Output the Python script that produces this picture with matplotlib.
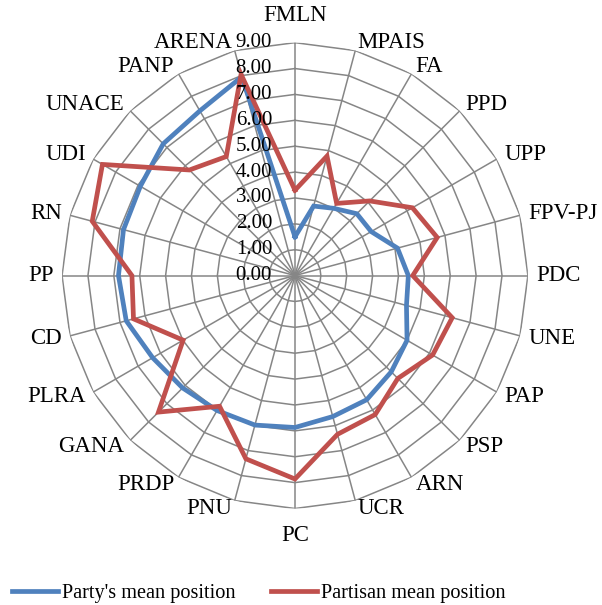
import numpy as np
import matplotlib
matplotlib.use("Agg")
import matplotlib.pyplot as plt

plt.rcParams['font.family'] = ['Liberation Serif', 'DejaVu Serif']

# parties, clockwise from the top
parties = ["FMLN", "MPAIS", "FA", "PPD", "UPP", "FPV-PJ", "PDC", "UNE", "PAP",
           "PSP", "ARN", "UCR", "PC", "PNU", "PRDP", "GANA", "PLRA", "CD", "PP",
           "RN", "UDI", "UNACE", "PANP", "ARENA"]

party_mean = [1.50, 2.78, 3.00, 3.38, 3.40, 4.10, 4.38, 4.46, 5.00, 5.26, 5.54, 5.64,
              5.87, 5.98, 6.02, 6.14, 6.35, 6.75, 6.82, 6.86, 6.90, 7.20, 7.35, 7.95]

partisan_mean = [3.30, 4.78, 3.22, 4.08, 5.24, 5.69, 4.55, 6.29, 6.14, 5.62, 6.20, 6.35,
                 7.86, 7.33, 5.83, 7.46, 4.99, 6.46, 6.30, 8.11, 8.59, 5.77, 5.31, 8.05]

ticks = [0, 1, 2, 3, 4, 5, 6, 7, 8, 9]

grid_col = "#868686"

fig = plt.figure(figsize=(6.02, 6.05), dpi=100)
ax = fig.add_axes([0.103, 0.1595, 0.774, 0.770], projection="polar")
ax.set_theta_zero_location("N")
ax.set_theta_direction(-1)
ax.set_ylim(0, 9)
ax.grid(False)
ax.spines["polar"].set_visible(False)
ax.set_xticks([])
ax.set_yticks([])
ax.patch.set_alpha(0)

n = len(parties)
theta = np.arange(n) * 2 * np.pi / n
theta_c = np.append(theta, theta[0])

# polygon rings and spokes
for t in ticks[1:]:
    ax.plot(theta_c, [t] * (n + 1), color=grid_col, lw=1.1, zorder=1)
for th in theta:
    ax.plot([th, th], [0, 9], color=grid_col, lw=1.1, zorder=1)

ax.plot(theta_c, party_mean + party_mean[:1], color="#4F81BD", lw=3.4,
        label="Party's mean position", zorder=3, solid_joinstyle="miter")
ax.plot(theta_c, partisan_mean + partisan_mean[:1], color="#C0504D", lw=3.4,
        label="Partisan mean position", zorder=3, solid_joinstyle="miter")

# radial value labels
for t in ticks:
    ax.annotate("%.2f" % t, xy=(0, t), xytext=(-16.5, 0), textcoords="offset points",
                ha="right", va="center", fontsize=15, zorder=5)

# category labels
for th, name in zip(theta, parties):
    s = np.sin(th)
    if abs(s) < 0.01:
        ax.text(th, 10.05, name, ha="center", va="center", fontsize=16.5)
    else:
        ax.text(th, 9.33, name, ha="left" if s > 0 else "right", va="center", fontsize=16.5)

fig.legend(loc="center left", bbox_to_anchor=(0.02, 0.0198), ncol=2, frameon=False,
           fontsize=14.6, handlelength=2.27, handletextpad=0.2, columnspacing=1.75,
           borderpad=0, borderaxespad=0)

fig.savefig("out.png", dpi=100)
